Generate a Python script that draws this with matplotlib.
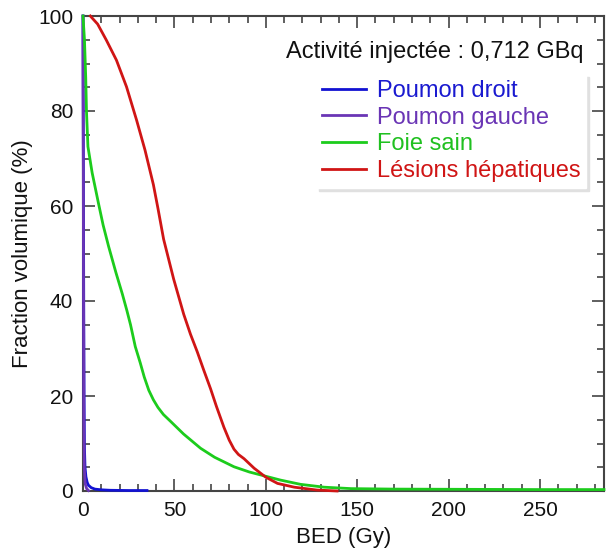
import matplotlib
matplotlib.use("Agg")
import matplotlib.pyplot as plt
from matplotlib.ticker import MultipleLocator

plt.rcParams['font.family'] = ['Liberation Sans', 'DejaVu Sans']

# ---- data ----
blue_x = [0, 0.2, 0.4, 0.6, 0.8, 1.1, 1.6, 2.3, 3, 4.5, 6.5, 10, 15, 25, 35]
blue_y = [100, 70, 40, 20, 9, 5, 3, 1.8, 1.2, 0.7, 0.4, 0.25, 0.15, 0.1, 0.1]

purple_x = [0, 0.15, 0.3, 0.45, 0.7, 1.2, 2, 3]
purple_y = [100, 70, 40, 15, 5, 1.5, 0.5, 0.1]

green_x = [0, 0.8, 1.5, 1.9, 2.7, 5, 8.5, 11, 14, 18, 21.5, 24, 26, 28.6, 31.3,
           33.5, 36, 38.5, 41, 44, 47.8, 55, 64.3, 72, 82.6, 91, 100, 108, 119,
           132, 146.7, 170, 210, 250, 285]
green_y = [100, 95, 87, 80, 72.5, 67, 60.5, 56, 51.5, 46, 41.5, 38, 35, 30.4, 27,
           24, 21.2, 19.2, 17.6, 16.1, 14.7, 12, 9, 7.1, 5.1, 4.0, 3.1, 2.3, 1.4,
           0.8, 0.5, 0.4, 0.35, 0.3, 0.3]

red_x = [4, 8, 12.8, 18.3, 23.8, 29.3, 33.9, 38.5, 41, 44.1, 49.6, 55.1, 58.8,
         62.5, 66, 69.8, 73, 77.1, 80, 82.6, 85, 88.1, 93.6, 100, 106.4, 115.6,
         128, 139]
red_y = [100, 98.3, 94.9, 90.7, 85.1, 78.1, 71.8, 64.5, 59.5, 53, 44.6, 37.2, 33,
         29.3, 25.5, 21.5, 17.8, 13.4, 10.7, 8.8, 7.7, 6.8, 4.8, 2.9, 1.6, 0.8,
         0.2, 0.0]

labels = ["Poumon droit", "Poumon gauche", "Foie sain", "Lésions hépatiques"]
colors = ["#1212d2", "#6a35b5", "#1ccc1c", "#d01515"]
text_colors = ["#1a1ad0", "#6a35b5", "#20c020", "#d01515"]
xticks = [0, 50, 100, 150, 200, 250]
yticks = [0, 20, 40, 60, 80, 100]

fig = plt.figure(figsize=(6.08, 5.51), dpi=100)
ax = fig.add_axes([83/608, 1-491/551, (604-83)/608, (491-16)/551])

series = [(blue_x, blue_y), (purple_x, purple_y), (green_x, green_y), (red_x, red_y)]
for (xs, ys), lab, c in zip(series, labels, colors):
    ax.plot(xs, ys, color=c, lw=2.0, label=lab, clip_on=False, zorder=3,
            solid_joinstyle='round')

ax.set_xlim(0, 285)
ax.set_ylim(0, 100)
ax.set_xticks(xticks)
ax.set_yticks(yticks)
ax.xaxis.set_minor_locator(MultipleLocator(10))
ax.yaxis.set_minor_locator(MultipleLocator(5))
ax.tick_params(which='both', direction='in', top=True, right=True,
               color='#444444', width=1.2, labelsize=15, labelcolor='#111111')
ax.tick_params(which='major', length=8.5, pad=7)
ax.tick_params(which='minor', length=5)
for s in ax.spines.values():
    s.set_color('#444444')
    s.set_linewidth(1.5)

ax.set_xlabel("BED (Gy)", fontsize=16, labelpad=5, color='#111111')
ax.set_ylabel("Fraction volumique (%)", fontsize=16, labelpad=4, color='#111111')

ax.text(0.96, 0.925, "Activité injectée : 0,712 GBq", transform=ax.transAxes,
        ha='right', va='center', fontsize=17, color='#111111')

leg = ax.legend(loc='upper right', bbox_to_anchor=(0.966, 0.878), fontsize=17,
                frameon=True, fancybox=False, shadow={'color': '0.88', 'alpha': 1},
                handlelength=1.86, handletextpad=0.47, labelspacing=0.2,
                borderpad=0.25, borderaxespad=0)
leg.get_frame().set_edgecolor('white')
leg.get_frame().set_facecolor('white')
for t, c in zip(leg.get_texts(), text_colors):
    t.set_color(c)

fig.savefig("out.png", dpi=100)
